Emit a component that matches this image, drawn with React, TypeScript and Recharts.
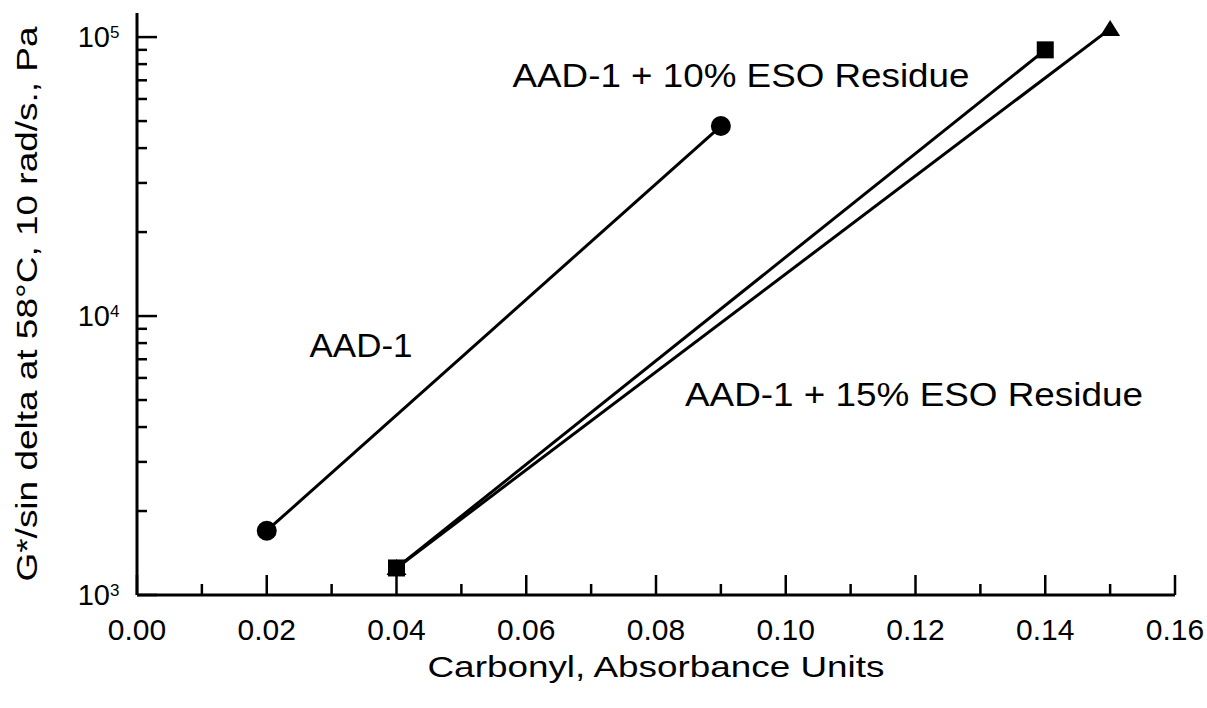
import React from 'react';
import { ScatterChart, Scatter, XAxis, YAxis, Label } from 'recharts';

// carbonyl (absorbance units) vs G*/sin delta (Pa)
const aadCarbonyl = [0.02, 0.09];
const aadModulus = [1700, 48000];
const eso10Carbonyl = [0.04, 0.14];
const eso10Modulus = [1250, 90000];
const eso15Carbonyl = [0.04, 0.15];
const eso15Modulus = [1250, 107000];

const xTicks = [0, 0.01, 0.02, 0.03, 0.04, 0.05, 0.06, 0.07, 0.08, 0.09, 0.1, 0.11, 0.12, 0.13, 0.14, 0.15, 0.16];
const yTicks = [
  1000, 2000, 3000, 4000, 5000, 6000, 7000, 8000, 9000,
  10000, 20000, 30000, 40000, 50000, 60000, 70000, 80000, 90000, 100000,
];

const annotations = [
  { text: 'AAD-1 + 10% ESO Residue', x: 741, y: 87, len: 457 },
  { text: 'AAD-1', x: 361, y: 357, len: 103 },
  { text: 'AAD-1 + 15% ESO Residue', x: 914, y: 406, len: 458 },
];

const toPoints = (xs: number[], ys: number[]) => xs.map((x, i) => ({ x, y: ys[i] }));

const FONT = '"Liberation Sans", Arial, Helvetica, sans-serif';
const INK = '#000';

const XTick = (props: any) => {
  const { x, y, payload } = props;
  const v = payload.value as number;
  const major = Math.round(v * 100) % 2 === 0;
  return (
    <g>
      <line x1={x} x2={x} y1={y} y2={y - (major ? 20 : 11)} stroke={INK} strokeWidth={2.5} />
      {major && (
        <text x={x} y={y + 45} textAnchor="middle" fontSize={30} fontFamily={FONT} fill={INK}>
          {v.toFixed(2)}
        </text>
      )}
    </g>
  );
};

const YTick = (props: any) => {
  const { x, y, payload } = props;
  const v = payload.value as number;
  const exp = Math.log10(v);
  const major = Math.abs(exp - Math.round(exp)) < 1e-6;
  return (
    <g>
      <line x1={x} x2={x + (major ? 20 : 10)} y1={y} y2={y} stroke={INK} strokeWidth={2.5} />
      {major && (
        <g fontFamily={FONT} fill={INK}>
          <text x={x - 27} y={y + 10} textAnchor="end" fontSize={29}>10</text>
          <text x={x - 27} y={y + 1} textAnchor="start" fontSize={17}>{Math.round(exp)}</text>
        </g>
      )}
    </g>
  );
};

const Circle = (props: any) => <circle cx={props.cx} cy={props.cy} r={10} fill={INK} />;
const Square = (props: any) => (
  <rect x={props.cx - 8.5} y={props.cy - 8.5} width={17} height={17} fill={INK} />
);
const Triangle = (props: any) => (
  <polygon
    points={`${props.cx},${props.cy - 9} ${props.cx + 10},${props.cy + 7} ${props.cx - 10},${props.cy + 7}`}
    fill={INK}
  />
);

const lineStyle = { stroke: INK, strokeWidth: 3 };

export default function App() {
  return (
    <div style={{ position: 'relative', width: 1207, height: 708, background: '#fff' }}>
      <style>{'body{margin:0}'}</style>
      <ScatterChart width={1207} height={708} margin={{ top: 13, right: 32, left: 0, bottom: 0 }}>
        <XAxis
          dataKey="x"
          type="number"
          domain={[0, 0.16]}
          ticks={xTicks}
          interval={0}
          tick={<XTick />}
          tickSize={0}
          tickMargin={0}
          tickLine={false}
          axisLine={{ stroke: INK, strokeWidth: 3 }}
          height={113}
          allowDataOverflow
        >
          <Label
            content={(p: any) => {
              const vb = p.viewBox;
              return (
                <text
                  x={vb.x + vb.width / 2}
                  y={vb.y + 82}
                  textAnchor="middle"
                  fontSize={30}
                  fontFamily={FONT}
                  fill={INK}
                  textLength={457}
                  lengthAdjust="spacingAndGlyphs"
                >
                  Carbonyl, Absorbance Units
                </text>
              );
            }}
          />
        </XAxis>
        <XAxis
          xAxisId="top"
          orientation="top"
          type="number"
          domain={[0, 0.16]}
          tick={false}
          tickLine={false}
          axisLine={{ stroke: INK, strokeWidth: 3 }}
          height={0}
        />
        <YAxis
          dataKey="y"
          type="number"
          scale="log"
          domain={[1000, 122000]}
          ticks={yTicks}
          interval={0}
          tick={<YTick />}
          tickSize={0}
          tickMargin={0}
          tickLine={false}
          axisLine={{ stroke: INK, strokeWidth: 3 }}
          width={137}
          allowDataOverflow
        >
          <Label
            content={(p: any) => {
              const vb = p.viewBox;
              const cy = vb.y + vb.height / 2;
              return (
                <text
                  x={37}
                  y={cy}
                  transform={`rotate(-90, 37, ${cy})`}
                  textAnchor="middle"
                  fontSize={30}
                  fontFamily={FONT}
                  fill={INK}
                  textLength={555}
                  lengthAdjust="spacingAndGlyphs"
                >
                  G*/sin delta at 58°C, 10 rad/s., Pa
                </text>
              );
            }}
          />
        </YAxis>
        <YAxis
          yAxisId="right"
          orientation="right"
          type="number"
          scale="log"
          domain={[1000, 122000]}
          tick={false}
          tickLine={false}
          axisLine={{ stroke: INK, strokeWidth: 3 }}
          width={0}
        />
        <Scatter
          name="AAD-1"
          data={toPoints(aadCarbonyl, aadModulus)}
          line={lineStyle}
          shape={<Circle />}
          isAnimationActive={false}
        />
        <Scatter
          name="AAD-1 + 10% ESO Residue"
          data={toPoints(eso10Carbonyl, eso10Modulus)}
          line={lineStyle}
          shape={<Square />}
          isAnimationActive={false}
        />
        <Scatter
          name="AAD-1 + 15% ESO Residue"
          data={toPoints(eso15Carbonyl, eso15Modulus)}
          line={lineStyle}
          shape={<Triangle />}
          isAnimationActive={false}
        />
      </ScatterChart>
      <svg
        width={1207}
        height={708}
        style={{ position: 'absolute', left: 0, top: 0, pointerEvents: 'none' }}
      >
        {annotations.map((a) => (
          <text
            key={a.text}
            x={a.x}
            y={a.y}
            textAnchor="middle"
            fontSize={33}
            fontFamily={FONT}
            fill={INK}
            textLength={a.len}
            lengthAdjust="spacingAndGlyphs"
          >
            {a.text}
          </text>
        ))}
      </svg>
    </div>
  );
}
